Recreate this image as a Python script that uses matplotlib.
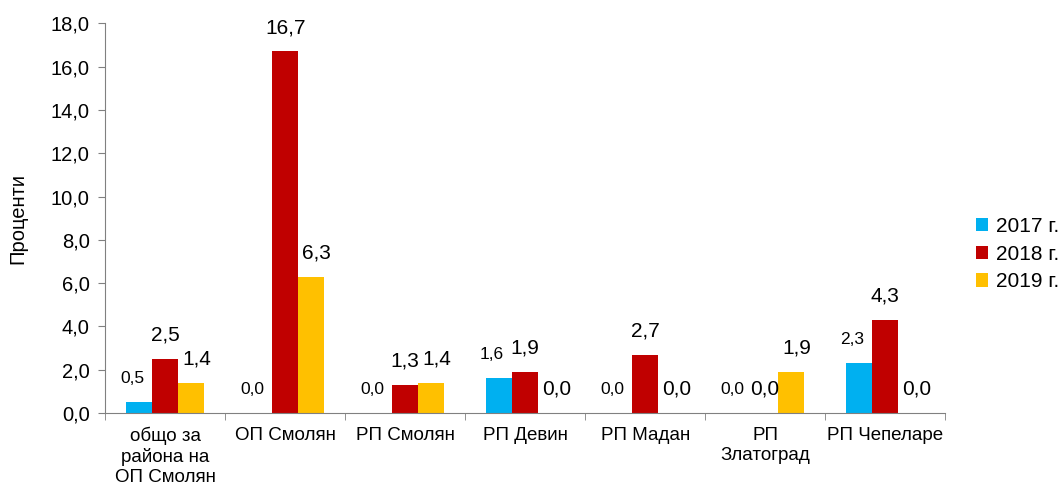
import numpy as np
import matplotlib.pyplot as plt

plt.rcParams['font.family'] = ['Liberation Sans', 'DejaVu Sans']

# Data
categories = ['общо за\nрайона на\nОП Смолян', 'ОП Смолян', 'РП Смолян', 'РП Девин',
              'РП Мадан', 'РП\nЗлатоград', 'РП Чепеларе']
years = ['2017 г.', '2018 г.', '2019 г.']
v2017 = [0.5, 0.0, 0.0, 1.6, 0.0, 0.0, 2.3]
v2018 = [2.5, 16.7, 1.3, 1.9, 2.7, 0.0, 4.3]
v2019 = [1.4, 6.3, 1.4, 0.0, 0.0, 1.9, 0.0]
yticks = np.arange(0, 18.1, 2.0)

series = [v2017, v2018, v2019]
colors = ['#00B0F0', '#C00000', '#FFC000']
label_sizes = [12.5, 15, 15]
label_dx = [-5, 0, 4]

fig = plt.figure(figsize=(10.62, 4.86), dpi=100)
ax = fig.add_axes([0.099, 0.150, 0.791, 0.802])

x = np.arange(len(categories))
w = 0.217
for i, (vals, col) in enumerate(zip(series, colors)):
    pos = x + (i - 1) * w
    ax.bar(pos, vals, width=w, color=col, label=years[i])
    for px, v in zip(pos, vals):
        ax.annotate(f'{v:.1f}'.replace('.', ','), (px, v), xytext=(label_dx[i], 17),
                    textcoords='offset points', ha='center', va='center',
                    fontsize=label_sizes[i], color='black')

ax.set_xlim(-0.5, len(categories) - 0.5)
ax.set_ylim(0, 18)
ax.set_yticks(yticks)
ax.set_yticklabels([f'{t:.1f}'.replace('.', ',') for t in yticks], fontsize=14.5)
ax.set_xticks(x)
ax.set_xticklabels(categories, fontsize=13.5, linespacing=1.2, va='top')
ax.set_xticks(np.arange(-0.5, len(categories)), minor=True)
ax.tick_params(axis='x', which='major', length=0, pad=10)
ax.tick_params(axis='x', which='minor', length=5, color='#808080')
ax.tick_params(axis='y', length=5, color='#808080', pad=6)
ax.set_ylabel('Проценти', fontsize=14.5)
ax.yaxis.set_label_coords(-0.092, 0.5)

for s in ['top', 'right']:
    ax.spines[s].set_visible(False)
for s in ['left', 'bottom']:
    ax.spines[s].set_color('#808080')

fig.legend(loc='center left', bbox_to_anchor=(0.909, 0.477), frameon=False,
           fontsize=15, handlelength=0.6, handleheight=0.6, handletextpad=0.35,
           labelspacing=0.42, borderpad=0)

fig.savefig('out.png', dpi=100)
